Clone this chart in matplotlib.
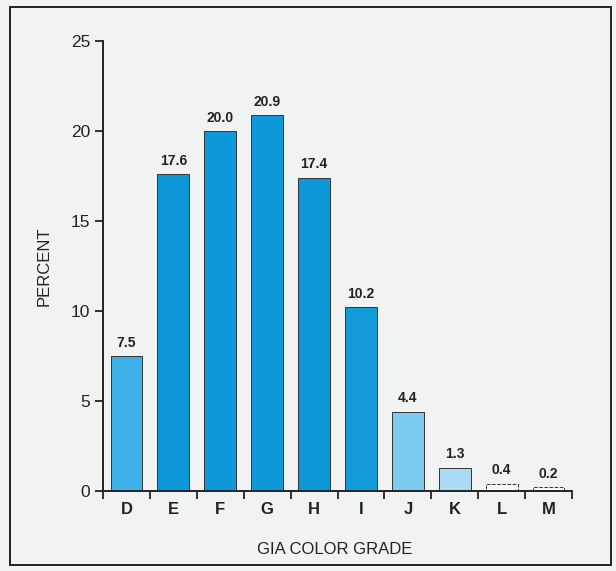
import matplotlib
matplotlib.use("Agg")
import matplotlib.pyplot as plt
from matplotlib.patches import Rectangle
import numpy as np

grades = ["D", "E", "F", "G", "H", "I", "J", "K", "L", "M"]
percent = [7.5, 17.6, 20.0, 20.9, 17.4, 10.2, 4.4, 1.3, 0.4, 0.2]
value_labels = ["7.5", "17.6", "20.0", "20.9", "17.4", "10.2", "4.4", "1.3", "0.4", "0.2"]
bar_colors = ["#3db2e8", "#0e98d9", "#0e98d9", "#0e98d9", "#0e98d9",
              "#149bda", "#7dcbef", "#a9dcf4", "#f6f7f7", "#f6f7f7"]
edge_styles = ["-", "-", "-", "-", "-", "-", "-", "-", "--", "--"]
y_ticks = [0, 5, 10, 15, 20, 25]

plt.rcParams["font.family"] = ["Liberation Sans", "DejaVu Sans"]

fig = plt.figure(figsize=(6.16, 5.71), dpi=100)
fig.patch.set_facecolor("#f1f2f2")

# outer frame
fig.patches.append(Rectangle((10 / 616, 6 / 571), 601 / 616, 558 / 571,
                             transform=fig.transFigure, fill=False,
                             edgecolor="#222222", linewidth=1.4))

ax = fig.add_axes([103 / 616, 1 - 491 / 571, 469 / 616, 450 / 571])
ax.set_facecolor("none")

x = np.arange(len(grades))
bars = ax.bar(x, percent, width=0.68, color=bar_colors, edgecolor="#333333",
              linewidth=0.7)
for b, ls in zip(bars, edge_styles):
    b.set_linestyle(ls)

for xi, v, lab in zip(x, percent, value_labels):
    ax.text(xi, v + 0.35, lab, ha="center", va="bottom", fontsize=10,
            fontweight="bold", color="#222222")

ax.set_xlim(-0.5, 9.5)
ax.set_ylim(0, 25)
ax.set_yticks(y_ticks)
ax.set_yticklabels([str(t) for t in y_ticks], fontsize=12.5, color="#222222")

# category labels at bar centres, tick marks at category boundaries
ax.set_xticks(x)
ax.set_xticklabels(grades, fontsize=12, fontweight="bold", color="#222222")
ax.tick_params(axis="x", length=0, pad=8)
ax.set_xticks(np.arange(-0.5, 10, 1.0), minor=True)
ax.tick_params(axis="x", which="minor", length=6, width=1.3, direction="out",
               color="#222222")
ax.tick_params(axis="y", length=6, width=1.3, color="#222222", pad=3)

for side in ["top", "right"]:
    ax.spines[side].set_visible(False)
for side in ["left", "bottom"]:
    ax.spines[side].set_linewidth(1.4)
    ax.spines[side].set_color("#222222")

ax.set_ylabel("PERCENT", fontsize=12, color="#222222", labelpad=14)
fig.text(335 / 616, 1 - 550 / 571, "GIA COLOR GRADE", ha="center",
         va="center", fontsize=12, color="#222222")

fig.savefig("out.png", dpi=100, facecolor=fig.get_facecolor())
